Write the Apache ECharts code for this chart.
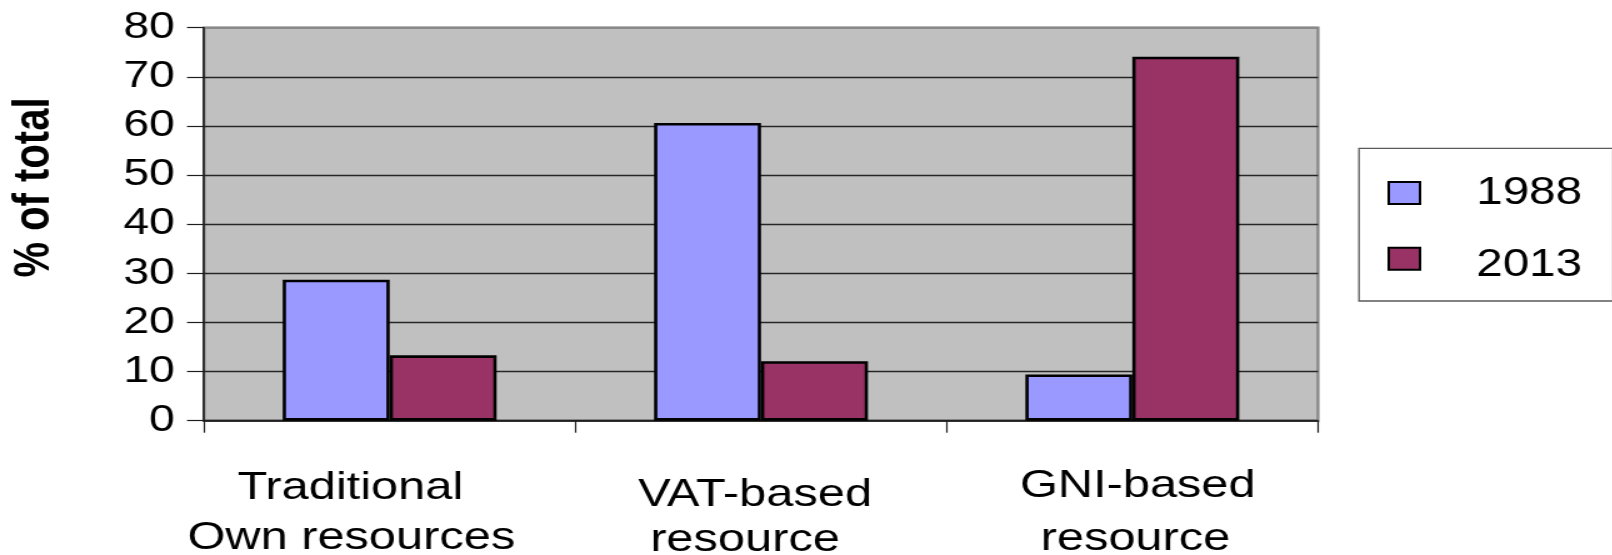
<!DOCTYPE html>
<html>
<head>
<meta charset="utf-8">
<title>Own resources: % of total, 1988 and 2013</title>
<script src="https://cdn.jsdelivr.net/npm/echarts@6/dist/echarts.min.js"></script>
<style>
  html, body { margin: 0; padding: 0; background: #ffffff; overflow: hidden; }
  /* the chart is laid out narrow and widened, giving the broad lettering */
  #chart { width: 1290px; height: 555px; transform: scaleX(1.25); transform-origin: 0 0; }
</style>
</head>
<body>
<div id="chart"></div>
<script>
// Categories of EU own resources
const categories = ['Traditional\nOwn resources', 'VAT-based\nresource', 'GNI-based\nresource'];
// Share of total revenue (%)
const seriesNames = ['1988', '2013'];
const values1988 = [28.7, 60.6, 9.4];
const values2013 = [13.3, 12.1, 74.1];
// Value axis
const yMin = 0;
const yMax = 80;
const yStep = 10;

const FONT = "'Liberation Sans', Arial, Helvetica, sans-serif";

// per-line placement of the wrapped category labels
const lineStyles = {
  c0a: { lineHeight: 42,   padding: [0, 63, 0, 0] },
  c0b: { lineHeight: 58.8, padding: [0, 61.4, 0, 0] },
  c1a: { lineHeight: 55.4, padding: [0, 9.6, 0, 0] },
  c1b: { lineHeight: 36,   padding: [0, 25.6, 0, 0] },
  c2a: { lineHeight: 38.6, padding: [0, 0, 0, 8.6] },
  c2b: { lineHeight: 67.2, padding: [0, 0, 0, 5] }
};
const rich = {};
Object.keys(lineStyles).forEach(function (k) {
  rich[k] = Object.assign({
    fontFamily: FONT, fontSize: 39, color: '#000'
  }, lineStyles[k]);
});

// legend entries: text offsets beside each swatch
const legendRich = {
  s0: { fontFamily: FONT, fontSize: 38, color: '#000', lineHeight: 38, padding: [2, 0, 0, 40] },
  s1: { fontFamily: FONT, fontSize: 38, color: '#000', lineHeight: 38, padding: [13.2, 0, 0, 40] }
};

const gridLineColors = [];
for (let v = yMin; v <= yMax; v += yStep) {
  gridLineColors.push(v === yMax ? '#8a8a8a' : '#262626');
}

const chart = echarts.init(document.getElementById('chart'), null, { renderer: 'canvas' });

chart.setOption({
  animation: false,
  backgroundColor: '#ffffff',
  textStyle: { fontFamily: FONT },
  grid: {
    left: 163.2,
    right: 235.6,
    top: 27.7,
    bottom: 134.3,
    outerBoundsMode: 'none',
    containLabel: false,
    show: true,
    backgroundColor: '#c0c0c0',
    borderColor: '#8a8a8a',
    borderWidth: 2.4
  },
  legend: {
    orient: 'vertical',
    left: 1087.2,
    top: 148.3,
    data: seriesNames,
    icon: 'rect',
    itemWidth: 25,
    itemHeight: 22,
    itemGap: 20.1,
    padding: [24.7, 25, 16.7, 22.8],
    backgroundColor: '#ffffff',
    borderColor: '#5a5a5a',
    borderWidth: 1.3,
    borderRadius: 0,
    formatter: function (name) {
      return '{s' + seriesNames.indexOf(name) + '|' + name + '}';
    },
    textStyle: { rich: legendRich }
  },
  xAxis: {
    type: 'category',
    data: categories,
    boundaryGap: true,
    axisLine: { show: true, lineStyle: { color: '#1e1e1e', width: 1.6 } },
    axisTick: { show: true, length: 12, lineStyle: { color: '#1e1e1e', width: 1.2 } },
    axisLabel: {
      interval: 0,
      margin: 46.5,
      formatter: function (value, index) {
        const lines = value.split('\n');
        return '{c' + index + 'a|' + lines[0] + '}\n{c' + index + 'b|' + lines[1] + '}';
      },
      rich: rich
    },
    splitLine: { show: false }
  },
  yAxis: {
    type: 'value',
    min: yMin,
    max: yMax,
    interval: yStep,
    name: '% of total',
    nameLocation: 'middle',
    nameRotate: 90,
    nameGap: 115.7,
    nameTextStyle: {
      fontFamily: FONT,
      fontSize: 40,
      fontWeight: 'bold',
      color: '#000',
      padding: [0, 0, 0, 73.4]
    },
    axisLine: { show: true, lineStyle: { color: '#1e1e1e', width: 1.6 } },
    axisTick: { show: true, length: 13.6, lineStyle: { color: '#1e1e1e', width: 1.2 } },
    axisLabel: {
      margin: 23.3,
      fontFamily: FONT,
      fontSize: 37,
      color: '#000'
    },
    splitLine: { show: true, lineStyle: { color: gridLineColors, width: 1.4 } }
  },
  series: [
    {
      name: seriesNames[0],
      type: 'bar',
      data: values1988,
      barGap: '0%',
      barCategoryGap: '42.4%',
      itemStyle: { color: '#9999ff', borderColor: '#000000', borderWidth: 2.6 }
    },
    {
      name: seriesNames[1],
      type: 'bar',
      data: values2013,
      barGap: '0%',
      barCategoryGap: '42.4%',
      itemStyle: { color: '#993366', borderColor: '#000000', borderWidth: 2.6 }
    }
  ]
});
</script>
</body>
</html>
